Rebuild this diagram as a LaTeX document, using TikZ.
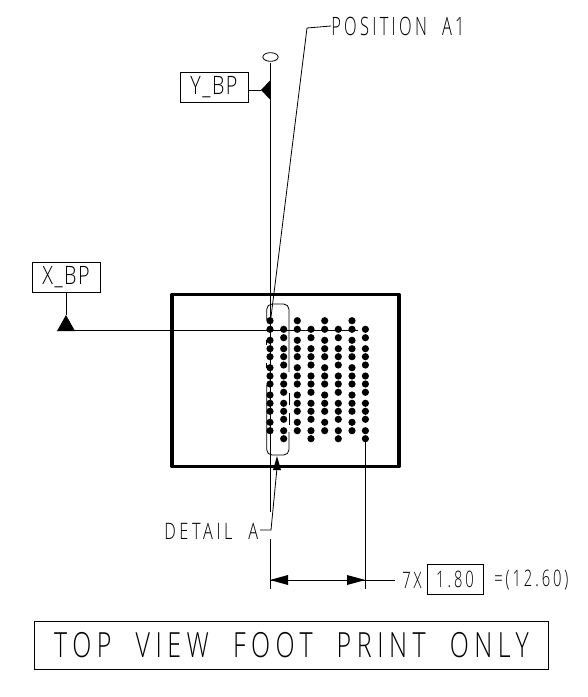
\documentclass[tikz,border=0pt]{standalone}
\usepackage{fontspec}
\usetikzlibrary{shapes.geometric}
\setmainfont[FakeStretch=0.72,LetterSpace=16]{Open Sans Light}
\newfontfamily\cadtight[FakeStretch=0.78,LetterSpace=6]{Open Sans Light}
\newfontfamily\cadnum[FakeStretch=0.65,LetterSpace=13]{Open Sans Light}
\tikzset{%
cadbox/.style={draw, line width=0.6pt, rectangle, inner sep=0pt},
cadtext/.style={inner sep=0pt, anchor=west},
cadline/.style={line width=0.6pt},
padhole/.style={circle, fill=black, inner sep=0pt, minimum size=5.4pt},
}
\begin{document}
\begin{tikzpicture}[x=0.75pt, y=-0.75pt]%
\useasboundingbox (0, 0) rectangle (587, 697);%
\draw[line width=2.7pt, line join=round] (172, 294.5) rectangle (399, 466.5);%
\foreach \px in {270, 297.3, 324.7, 352} {%
\foreach \py in {320.7, 329.3, 340.3, 348.7, 356.7, 367.7, 376, 384, 395, 403.3, 411.3, 422.3, 430.7} {%
\node[padhole] at (\px, \py) {};%
}%
}%
\foreach \px in {283.7, 311, 338.3, 365.4} {%
\foreach \py in {329.3, 337.7, 348.7, 356.7, 365, 376, 384, 392.3, 403.3, 411.3, 419.3, 430.7, 438.7} {%
\node[padhole] at (\px, \py) {};%
}%
}%
\draw[cadline, rounded corners=4] (266.7, 320) -- (266.7, 304) -- (289, 304) -- (289, 372);%
\draw[cadline, rounded corners=4] (289, 432) -- (289, 455) -- (266.7, 455) -- (266.7, 385);%
\draw[cadline] (289, 393) -- (289, 405);%
\draw[cadline] (289, 413) -- (289, 425);%
\draw[cadline] (266.7, 340) -- (266.7, 345);%
\draw[cadline] (266.7, 363) -- (266.7, 368);%
\node[cadtext] (posa1) at (331, 26) {\cadnum\fontsize{19pt}{19pt}\selectfont POSITION\ \ A1};%
\coordinate (posknee) at (307, 28);%
\coordinate (postip) at (270.5, 321);%
\draw[cadline] (posa1.west) -- (posknee) -- (postip);%
\node[draw, cadline, ellipse, minimum width=11.5pt, minimum height=6.5pt, inner sep=0pt] (datumy) at (270.5, 57) {};%
\coordinate (yend) at (270.5, 512);%
\draw[cadline] (270.5, 63) -- (yend);%
\node[cadbox, minimum width=51pt, minimum height=22.5pt] (ybp) at (214, 87) {\cadtight\fontsize{19pt}{19pt}\selectfont Y\_BP};%
\coordinate (ytip) at (261, 90);%
\draw[cadline] (ybp.east |- ytip) -- (ytip);%
\fill (ytip) -- (270.5, 80) -- (270.5, 100) -- cycle;%
\node[cadbox, minimum width=51pt, minimum height=22.5pt] (xbp) at (66, 277) {\cadtight\fontsize{19pt}{19pt}\selectfont X\_BP};%
\coordinate (xtip) at (66, 315);%
\coordinate (xend) at (358, 330);%
\draw[cadline] (xbp.south) -- (xtip);%
\fill (xtip) -- (75, 331) -- (57, 331) -- cycle;%
\draw[cadline] (66, 330) -- (xend);%
\node[cadtext] (detaila) at (164, 531) {\fontsize{17pt}{17pt}\selectfont DETAIL\ \ A};%
\coordinate (detknee) at (271, 530);%
\coordinate (dettip) at (277, 456);%
\draw[cadline] (260, 530) -- (detknee) -- (277, 468);%
\fill (dettip) -- (281, 470) -- (273, 470) -- cycle;%
\coordinate (dimleft) at (270, 580);%
\coordinate (dimright) at (365.4, 580);%
\draw[cadline] (270, 539) -- (270, 589);%
\draw[cadline] (365.4, 438) -- (365.4, 589);%
\draw[cadline] (dimleft) -- (395, 580);%
\fill (dimleft) -- (288, 575) -- (288, 585) -- cycle;%
\fill (dimright) -- (347, 575) -- (347, 585) -- cycle;%
\node[cadtext] (times) at (402, 580) {\cadnum\fontsize{17pt}{17pt}\selectfont 7X};%
\node[cadbox, minimum width=385pt, minimum height=36pt] (title) at (291.5, 645) {\fontsize{26pt}{26pt}\selectfont TOP\ \ VIEW\ \ FOOT\ \ PRINT\ \ ONLY};%
\node[cadbox, minimum width=42pt, minimum height=23pt] (pitch) at (455, 579.5) {\cadnum\fontsize{17pt}{17pt}\selectfont 1.80};%
\node[cadtext] (total) at (494, 580) {\cadnum\fontsize{17pt}{17pt}\selectfont =(12.60)};%
\end{tikzpicture}
\end{document}
